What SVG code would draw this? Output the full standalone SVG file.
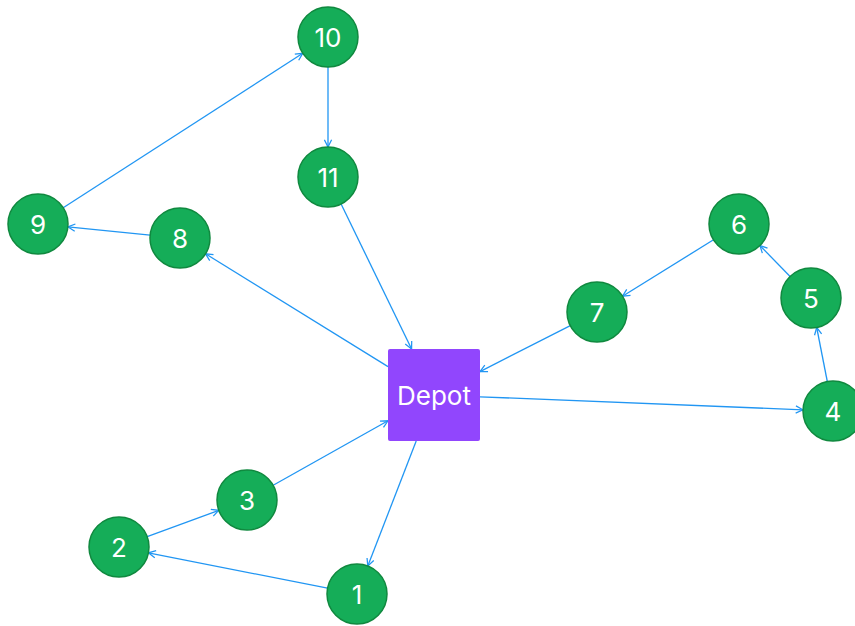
<svg xmlns="http://www.w3.org/2000/svg" width="855" height="626" viewBox="0 0 855 626">
<style>
.n circle{fill:#15ad58;stroke:#10893f;stroke-width:1.5}
.t{font-family:Inter,"Open Sans","Liberation Sans",sans-serif;font-size:26px;fill:#fff;text-anchor:middle;dominant-baseline:central}
.e line{stroke:#2196f3;stroke-width:1.3;fill:none;marker-end:url(#a)}
</style>
<defs>
<marker id="a" viewBox="0 0 10 10" refX="9" refY="5" markerWidth="9" markerHeight="9" markerUnits="userSpaceOnUse" orient="auto">
<path d="M1,1 L9,5 L1,9" fill="none" stroke="#2196f3" stroke-width="1.4"/>
</marker>
</defs>
<rect width="855" height="626" fill="#fff"/>
<g class="e" id="edges">
<line x1="328" y1="67" x2="328" y2="147"/>
<line x1="63.2" y1="207.7" x2="302.8" y2="53.3"/>
<line x1="150.1" y1="235.1" x2="67.9" y2="226.9"/>
<line x1="388" y1="366.6" x2="205.5" y2="253.8"/>
<line x1="341.1" y1="204" x2="411.6" y2="349"/>
<line x1="570.3" y1="325.6" x2="480" y2="371.6"/>
<line x1="713.5" y1="239.8" x2="622.5" y2="296.2"/>
<line x1="790.1" y1="276.5" x2="759.9" y2="245.5"/>
<line x1="827.3" y1="381.5" x2="816.7" y2="327.5"/>
<line x1="480" y1="396.8" x2="803" y2="409.8"/>
<line x1="416.2" y1="441" x2="367.8" y2="566"/>
<line x1="327.6" y1="588.2" x2="148.4" y2="552.8"/>
<line x1="147.2" y1="536.7" x2="218.8" y2="510.3"/>
<line x1="273.2" y1="485.3" x2="388" y2="420.8"/>
</g>
<g id="depot"><rect x="388" y="349" width="92" height="92" rx="2" fill="#9146fd"/><text class="t" x="434" y="395">Depot</text></g>
<g class="n" id="n1"><circle cx="357" cy="594" r="30"/><text class="t" x="357" y="594">1</text></g>
<g class="n" id="n2"><circle cx="119" cy="547" r="30"/><text class="t" x="119" y="547">2</text></g>
<g class="n" id="n3"><circle cx="247" cy="500" r="30"/><text class="t" x="247" y="500">3</text></g>
<g class="n" id="n4"><circle cx="833" cy="411" r="30"/><text class="t" x="833" y="411">4</text></g>
<g class="n" id="n5"><circle cx="811" cy="298" r="30"/><text class="t" x="811" y="298">5</text></g>
<g class="n" id="n6"><circle cx="739" cy="224" r="30"/><text class="t" x="739" y="224">6</text></g>
<g class="n" id="n7"><circle cx="597" cy="312" r="30"/><text class="t" x="597" y="312">7</text></g>
<g class="n" id="n8"><circle cx="180" cy="238" r="30"/><text class="t" x="180" y="238">8</text></g>
<g class="n" id="n9"><circle cx="38" cy="224" r="30"/><text class="t" x="38" y="224">9</text></g>
<g class="n" id="n10"><circle cx="328" cy="37" r="30"/><text class="t" x="328" y="37">10</text></g>
<g class="n" id="n11"><circle cx="328" cy="177" r="30"/><text class="t" x="328" y="177">11</text></g>
</svg>
